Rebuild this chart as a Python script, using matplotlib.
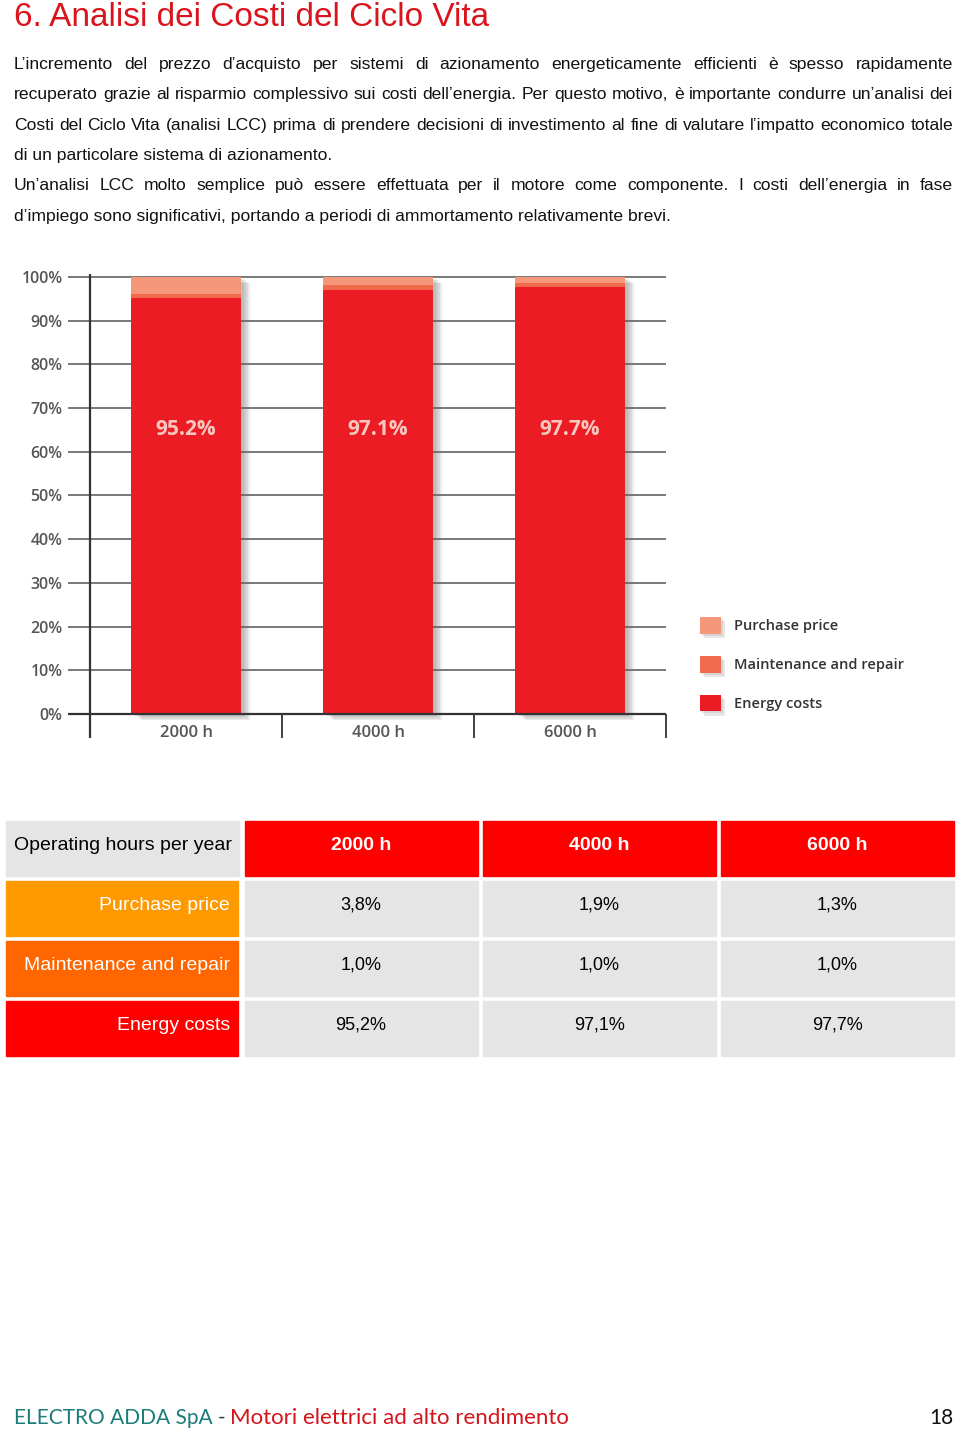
import matplotlib
matplotlib.use("Agg")
import matplotlib.pyplot as plt
import matplotlib.patheffects as pe
from matplotlib.patches import Rectangle, Patch

# Dati del grafico
ore = ['2000 h', '4000 h', '6000 h']
prezzo_acquisto = [3.8, 1.9, 1.3]
manutenzione = [1.0, 1.0, 1.0]
costi_energia = [95.2, 97.1, 97.7]
voci = ['Purchase price', 'Maintenance and repair', 'Energy costs']
tick_perc = list(range(0, 101, 10))

# Dati della tabella
intestazione = 'Operating hours per year'
tabella = [prezzo_acquisto, manutenzione, costi_energia]

# Testi della pagina
titolo = '6. Analisi dei Costi del Ciclo Vita'
righe = [
    ('L’incremento del prezzo d’acquisto per sistemi di azionamento energeticamente efficienti è spesso rapidamente', True),
    ('recuperato grazie al risparmio complessivo sui costi dell’energia. Per questo motivo, è importante condurre un’analisi dei', True),
    ('Costi del Ciclo Vita (analisi LCC) prima di prendere decisioni di investimento al fine di valutare l’impatto economico totale', True),
    ('di un particolare sistema di azionamento.', False),
    ('Un’analisi LCC molto semplice può essere effettuata per il motore come componente. I costi dell’energia in fase', True),
    ('d’impiego sono significativi, portando a periodi di ammortamento relativamente brevi.', False),
]
piede = [('ELECTRO ADDA SpA', '#1b7c78', 15), ('-', '#333333', 15),
         ('Motori elettrici ad alto rendimento', '#d4141c', 16)]
pagina = '18'

col_barre = ['#f4977a', '#f26a4c', '#ec1c24']
col_righe = ['#ff9900', '#ff6600', '#ff0000']
grigio = '#e5e5e5'

fig = plt.figure(figsize=(9.6, 14.32), dpi=100)
fig.patch.set_facecolor('white')

# Asse "pagina" in pixel
pg = fig.add_axes([0, 0, 1, 1])
pg.set_xlim(0, 960)
pg.set_ylim(1432, 0)
pg.axis('off')
rend = fig.canvas.get_renderer()

testo = dict(family='Liberation Sans', fontsize=12.6, color='#111111')


def riga(s, y, giustifica):
    if not giustifica:
        pg.text(14, y, s, va='baseline', ha='left', **testo)
        return
    parole = s.split(' ')
    oggetti = [pg.text(0, y, p, va='baseline', ha='left', **testo) for p in parole]
    larg = [o.get_window_extent(rend).width for o in oggetti]
    spazio = (953 - 14 - sum(larg)) / (len(parole) - 1)
    x = 14
    for o, w in zip(oggetti, larg):
        o.set_x(x)
        x += w + spazio


pg.text(14, 17, titolo, va='center', ha='left', family='Liberation Sans',
        fontsize=24, color='#d9141c')
for i, (s, g) in enumerate(righe):
    riga(s, 69 + i * 30.3, g)

# Grafico a barre impilate
ax = fig.add_axes([68 / 960, 1 - 738 / 1432, 598 / 960, 465.4 / 1432])
x = list(range(len(ore)))
base_man = costi_energia
base_acq = [e + m for e, m in zip(costi_energia, manutenzione)]
ombra = [pe.SimplePatchShadow(offset=(o, -o * 0.6), shadow_rgbFace='#666666', alpha=0.13)
         for o in (7, 5.5, 4, 2.5)] + [pe.Normal()]
larg_barra = 0.57
b1 = ax.bar(x, prezzo_acquisto, larg_barra, bottom=base_acq, color=col_barre[0], zorder=3)
b2 = ax.bar(x, manutenzione, larg_barra, bottom=base_man, color=col_barre[1], zorder=3)
b3 = ax.bar(x, costi_energia, larg_barra, color=col_barre[2], zorder=3)
for cont in (b1, b2, b3):
    for p in cont:
        p.set_path_effects(ombra)

ax.set_xlim(-0.5 - 22 / 192, 2.5)
ax.set_ylim(-5.5, 101)
ax.set_yticks(tick_perc)
ax.set_yticklabels([f'{t}%' for t in tick_perc], family='Open Sans', fontweight='semibold',
                   fontsize=11.5, color='#555555')
ax.tick_params(axis='y', length=0, pad=4)
ax.set_xticks([])
ax.yaxis.grid(True, color='#555555', lw=1.1, zorder=1)
for s in ax.spines.values():
    s.set_visible(False)
ax.axhline(0, color='#333333', lw=1.6, zorder=4)
ax.vlines([-0.5], -5.5, 100.6, color='#333333', lw=1.6, zorder=4)
ax.vlines([0.5, 1.5, 2.5], -5.5, 0, color='#333333', lw=1.3, zorder=4, clip_on=False)

for i, (h, e) in enumerate(zip(ore, costi_energia)):
    ax.text(i, -4.35, h, ha='center', va='center', family='Open Sans', fontweight='semibold',
            fontsize=12, color='#555555')
    ax.text(i, 65.0, f'{e:.1f}%', ha='center', va='center', family='Open Sans', fontweight='bold',
            fontsize=15, color='#f8c8c0', zorder=5)

maniglie = [Patch(facecolor=c, edgecolor='none') for c in col_barre]
leg = fig.legend(maniglie, voci, loc='upper left', bbox_to_anchor=(687 / 960, 1 - 604 / 1432),
                 frameon=False, handlelength=1.4, handleheight=1.4, labelspacing=1.5,
                 handletextpad=0.95, prop=dict(family='Open Sans', weight='semibold', size=10.5))
for t in leg.get_texts():
    t.set_color('#333333')
for p in leg.get_patches():
    p.set_path_effects([pe.SimplePatchShadow(offset=(o, -o), shadow_rgbFace='#888888', alpha=0.2)
                        for o in (3, 1.5)] + [pe.Normal()])

# Tabella
x_col = [6, 244.5, 483, 721]
w_col = 233
y_riga = [821, 881, 941, 1001]
h_riga = 55
cella = dict(family='Liberation Sans', fontsize=13)

pg.add_patch(Rectangle((x_col[0], y_riga[0]), w_col, h_riga, color=grigio))
pg.text(14, y_riga[0] + 24, intestazione, ha='left', va='center', color='black',
        family='Liberation Sans', fontsize=14)
for j, h in enumerate(ore):
    pg.add_patch(Rectangle((x_col[j + 1], y_riga[0]), w_col, h_riga, color='#ff0000'))
    pg.text(x_col[j + 1] + w_col / 2, y_riga[0] + 24, h, ha='center', va='center',
            color='white', fontweight='bold', family='Liberation Sans', fontsize=14)
for i, (v, c, valori) in enumerate(zip(voci, col_righe, tabella)):
    y = y_riga[i + 1]
    pg.add_patch(Rectangle((x_col[0], y), w_col - 1, h_riga, color=c))
    pg.text(230, y + 24, v, ha='right', va='center', color='white',
            family='Liberation Sans', fontsize=14)
    for j, val in enumerate(valori):
        pg.add_patch(Rectangle((x_col[j + 1], y), w_col, h_riga, color=grigio))
        pg.text(x_col[j + 1] + w_col / 2, y + 24, f'{val:.1f}%'.replace('.', ','),
                ha='center', va='center', color='black', **cella)

# Piè di pagina
xp = 14
for s, c, fs in piede:
    t = pg.text(xp, 1424, s, ha='left', va='baseline', family='Lato', fontsize=fs, color=c)
    xp += t.get_window_extent(rend).width + 5
pg.text(953, 1424, pagina, ha='right', va='baseline', family='Lato', fontsize=15, color='#111111')

fig.savefig('out.png', dpi=100)
